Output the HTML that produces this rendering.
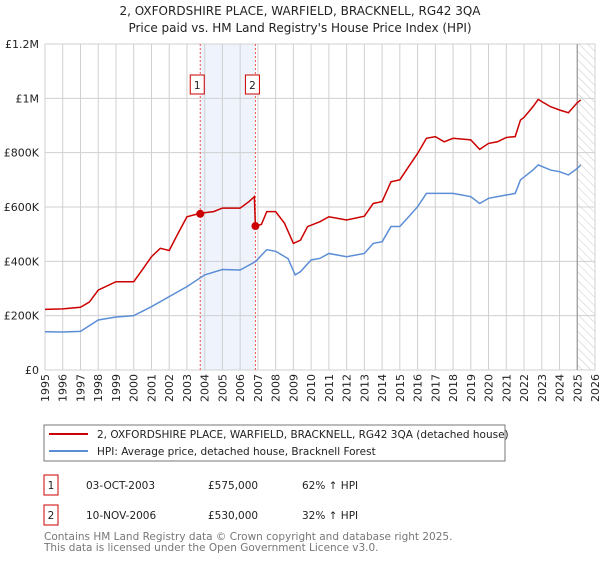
<!DOCTYPE html>
<html><head><meta charset="utf-8"><style>
body{margin:0;background:#fff;font-family:"DejaVu Sans","Liberation Sans",sans-serif;}
svg text{font-family:"DejaVu Sans","Liberation Sans",sans-serif;}
</style></head><body>
<svg id="chart" width="600" height="560" xmlns="http://www.w3.org/2000/svg">
<defs><pattern id="hatch" width="6" height="6" patternUnits="userSpaceOnUse" patternTransform="rotate(-45)"><line x1="0" y1="0" x2="0" y2="6" stroke="#bbb" stroke-width="0.8"/></pattern></defs>
<text x="300" y="15" font-size="12" text-anchor="middle" fill="#222">2, OXFORDSHIRE PLACE, WARFIELD, BRACKNELL, RG42 3QA</text>
<text x="300" y="32" font-size="12" text-anchor="middle" fill="#222">Price paid vs. HM Land Registry's House Price Index (HPI)</text>
<g id="grid"></g><g id="marks"></g><g id="axes"></g>
<rect x="44" y="425" width="461" height="36" fill="none" stroke="#777"/>
<line x1="49" y1="434" x2="88" y2="434" stroke="#cc0000" stroke-width="2"/>
<text x="97" y="438" font-size="10.5" fill="#222">2, OXFORDSHIRE PLACE, WARFIELD, BRACKNELL, RG42 3QA (detached house)</text>
<line x1="49" y1="451" x2="88" y2="451" stroke="#5b8ed6" stroke-width="2"/>
<text x="97" y="455" font-size="10.5" fill="#222">HPI: Average price, detached house, Bracknell Forest</text>
<g>
<rect x="44" y="475" width="14" height="20" fill="none" stroke="#cc0000"/>
<text x="51" y="489" font-size="10.5" text-anchor="middle" fill="#222">1</text>
<text x="86" y="489" font-size="10.5" fill="#222">03-OCT-2003</text>
<text x="208" y="489" font-size="10.5" fill="#222">£575,000</text>
<text x="302" y="489" font-size="10.5" fill="#222">62% ↑ HPI</text></g>
<g>
<rect x="44" y="505" width="14" height="20" fill="none" stroke="#cc0000"/>
<text x="51" y="519" font-size="10.5" text-anchor="middle" fill="#222">2</text>
<text x="86" y="519" font-size="10.5" fill="#222">10-NOV-2006</text>
<text x="208" y="519" font-size="10.5" fill="#222">£530,000</text>
<text x="302" y="519" font-size="10.5" fill="#222">32% ↑ HPI</text></g>
<text x="44" y="540" font-size="10.5" fill="#777">Contains HM Land Registry data © Crown copyright and database right 2025.</text>
<text x="44" y="551" font-size="10.5" fill="#777">This data is licensed under the Open Government Licence v3.0.</text>
</svg>
<script>
const redYears=[1995,1996,1997,1997.5,1998,1999,2000,2000.5,2001,2001.5,2002,2002.5,2003,2003.75,2004.5,2005,2006,2006.5,2006.8,2006.86,2007.2,2007.5,2008,2008.5,2009,2009.4,2009.8,2010.5,2011,2012,2013,2013.5,2014,2014.5,2015,2015.5,2016,2016.5,2017,2017.5,2018,2019,2019.5,2020,2020.5,2021,2021.5,2021.8,2022,2022.5,2022.8,2023,2023.5,2024,2024.5,2025,2025.2];
const redValues=[223,225,231,250,294,325,325,370,417,448,440,503,564,577,583,596,596,620,638,530,536,583,583,540,466,478,528,546,564,552,566,613,620,693,700,749,797,853,859,840,853,847,812,834,840,856,859,920,930,969,996,988,969,957,947,984,994];
const hpiYears=[1995,1996,1997,1998,1999,2000,2001,2002,2003,2004,2005,2006,2006.86,2007.5,2008,2008.7,2009.1,2009.4,2010,2010.5,2011,2012,2013,2013.5,2014,2014.5,2015,2015.5,2016,2016.5,2017,2018,2019,2019.5,2020,2021,2021.5,2021.8,2022.5,2022.8,2023.5,2024,2024.5,2025,2025.2];
const hpiValues=[141,140,142,184,195,200,233,270,307,350,370,368,399,443,437,410,350,362,405,411,429,417,429,466,472,528,528,564,601,650,650,650,638,613,632,644,650,700,736,755,736,730,718,742,755];
const sales=[{n:"1",year:2003.75,value:575},{n:"2",year:2006.86,value:530}];
const yTicks=[0,200,400,600,800,1000,1200];
const yTickLabels=["£0","£200K","£400K","£600K","£800K","£1M","£1.2M"];
const xTicks=[1995,1996,1997,1998,1999,2000,2001,2002,2003,2004,2005,2006,2007,2008,2009,2010,2011,2012,2013,2014,2015,2016,2017,2018,2019,2020,2021,2022,2023,2024,2025,2026];
const L=45,R=595,T=44,B=370,X0=1995,X1=2026,YMAX=1200;
const X=v=>L+(v-X0)/(X1-X0)*(R-L), Y=v=>B-v/YMAX*(B-T);
const NS="http://www.w3.org/2000/svg";
function mk(p,tag,a){const e=document.createElementNS(NS,tag);for(const k in a)e.setAttribute(k,a[k]);p.appendChild(e);return e;}
const grid=document.getElementById('grid'),marks=document.getElementById('marks'),axes=document.getElementById('axes');
const shade=mk(grid,'rect',{x:X(sales[0].year),y:T,width:X(sales[1].year)-X(sales[0].year),height:B-T,fill:'#eef3fc'});


const hat=mk(grid,'rect',{x:X(2025),y:T,width:R-X(2025),height:B-T,fill:'url(#hatch)'});


xTicks.forEach(t=>{const l=mk(grid,'line',{x1:X(t),x2:X(t),y1:T,y2:B,stroke:'#d0d0d0'});


const tx=mk(axes,'text',{x:0,y:0,'font-size':11,'text-anchor':'end',fill:'#222',transform:'translate('+(X(t)+4)+',374) rotate(-90)'});tx.textContent=t;

});
yTicks.forEach((t,i)=>{const l=mk(grid,'line',{x1:L,x2:R,y1:Y(t),y2:Y(t),stroke:'#d0d0d0'});


const tx=mk(axes,'text',{x:39,y:Y(t)+4,'font-size':11,'text-anchor':'end',fill:'#222'});tx.textContent=yTickLabels[i];

});
const nl=mk(grid,'line',{x1:X(2025),x2:X(2025),y1:T,y2:B,stroke:'#999','stroke-width':1.2});


sales.forEach(s=>{const l=mk(marks,'line',{x1:X(s.year),x2:X(s.year),y1:T,y2:B,stroke:'#e55','stroke-dasharray':'2,2','stroke-width':1});

});
const hp=mk(marks,'polyline',{points:hpiYears.map((y,i)=>X(y)+','+Y(hpiValues[i])).join(' '),fill:'none',stroke:'#5b8ed6','stroke-width':1.5});


const rp=mk(marks,'polyline',{points:redYears.map((y,i)=>X(y)+','+Y(redValues[i])).join(' '),fill:'none',stroke:'#cc0000','stroke-width':1.5});


sales.forEach(s=>{const c=mk(marks,'circle',{cx:X(s.year),cy:Y(s.value),r:4,fill:'#cc0000'});


const bx=X(s.year)-10;const r=mk(marks,'rect',{x:bx,y:75,width:14,height:19,fill:'#fff',stroke:'#cc0000'});


const t=mk(marks,'text',{x:bx+7,y:89,'font-size':10.5,'text-anchor':'middle',fill:'#222'});t.textContent=s.n;});
</script>
</body></html>
